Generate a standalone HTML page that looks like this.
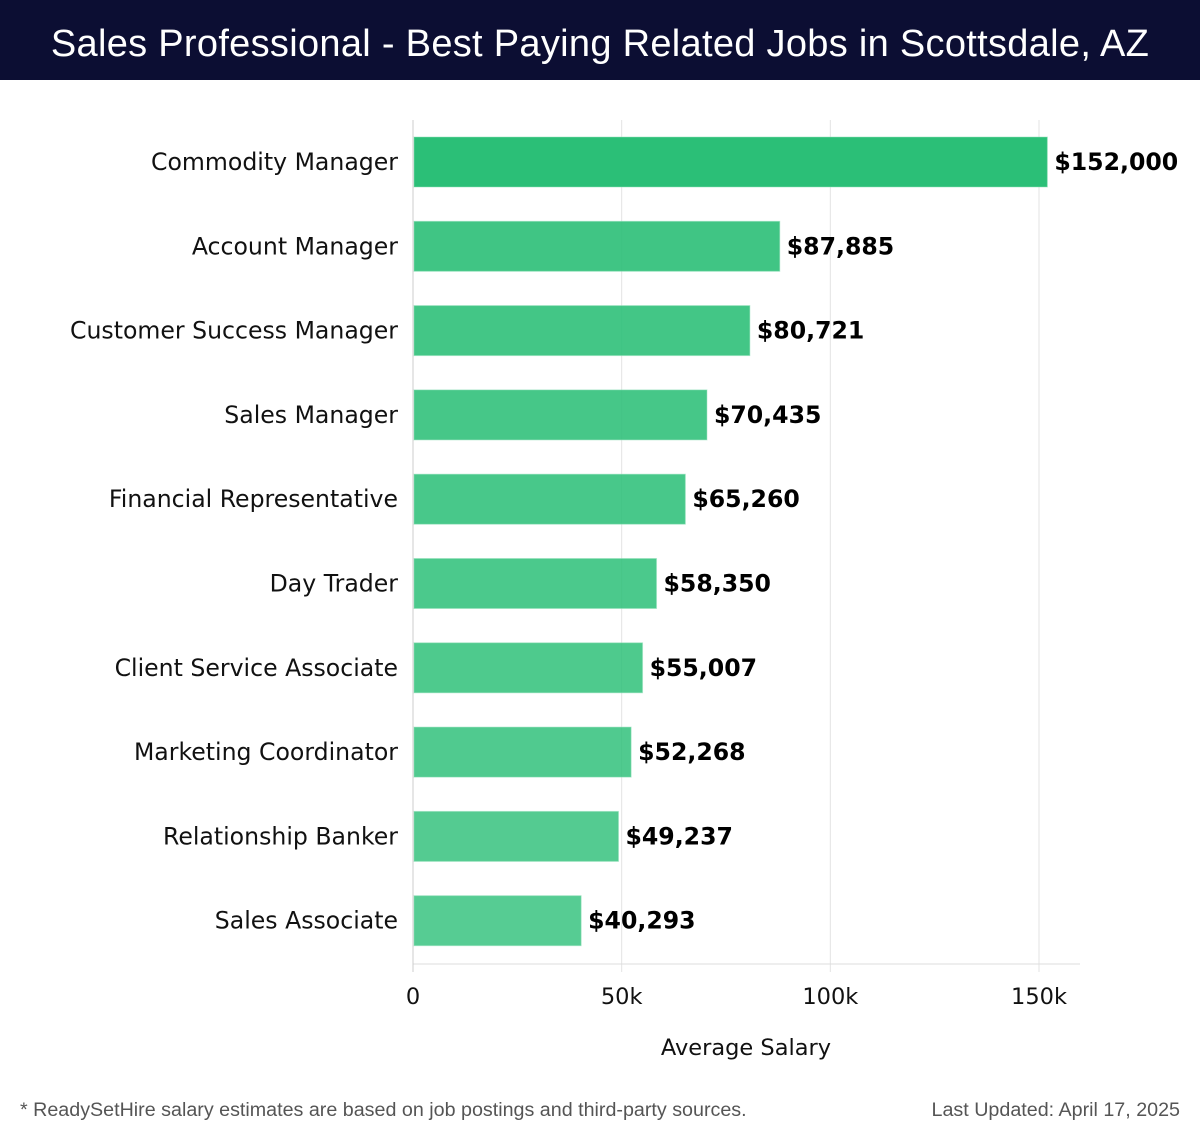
<!DOCTYPE html>
<html><head><meta charset="utf-8"><style>
body{margin:0;width:1200px;height:1140px;background:#fff;overflow:hidden;font-family:"DejaVu Sans","Liberation Sans",sans-serif}
#hdr{position:absolute;left:0;top:0;width:1200px;height:80px;background:#0c0e33;color:#fff;font-family:"Liberation Sans",sans-serif;font-size:38px;letter-spacing:0.3px;line-height:88px;text-align:center}
.foot{position:absolute;top:1099px;font-family:"Liberation Sans",sans-serif;font-size:19.7px;color:#555}
</style></head><body>
<div id="hdr">Sales Professional - Best Paying Related Jobs in Scottsdale, AZ</div>
<svg id="chart" width="1200" height="1140" style="position:absolute;left:0;top:0"></svg>
<div class="foot" style="left:20px">* ReadySetHire salary estimates are based on job postings and third-party sources.</div>
<div class="foot" style="right:20px">Last Updated: April 17, 2025</div>
<script>
const categories=["Commodity Manager","Account Manager","Customer Success Manager","Sales Manager","Financial Representative","Day Trader","Client Service Associate","Marketing Coordinator","Relationship Banker","Sales Associate"];
const values=[152000,87885,80721,70435,65260,58350,55007,52268,49237,40293];
const valueLabels=["$152,000","$87,885","$80,721","$70,435","$65,260","$58,350","$55,007","$52,268","$49,237","$40,293"];
const ticks=[0,50000,100000,150000];
const tickLabels=["0","50k","100k","150k"];
const NS="http://www.w3.org/2000/svg",svg=document.getElementById('chart');
const x0=413,xs=(1039-413)/150000,top0=120,bottom=964,step=84.3,c0=162,bh=50;
const X=v=>x0+v*xs, Y=i=>c0+i*step;
function mk(t,a,txt){const e=document.createElementNS(NS,t);for(const k in a)e.setAttribute(k,a[k]);if(txt!=null)e.textContent=txt;svg.appendChild(e);return e;}
ticks.forEach((t,i)=>{
 const g=mk('line',{x1:X(t),x2:X(t),y1:top0,y2:bottom+8,stroke:'#e3e3e3','stroke-width':1});
 
 
 const l=mk('text',{x:X(t),y:1004,'text-anchor':'middle','font-size':22.5,fill:'#111'},tickLabels[i]);
 
 
});
const ax=mk('line',{x1:x0,x2:1080,y1:bottom,y2:bottom,stroke:'#ddd','stroke-width':1});


const ay=mk('line',{x1:x0,x2:x0,y1:top0,y2:bottom+8,stroke:'#ccc','stroke-width':1});


categories.forEach((c,i)=>{
 const op=i===0?1:0.9-(i-1)*0.013;
 const r=mk('rect',{x:x0+1,y:Y(i)-bh/2,width:X(values[i])-x0-1,height:bh,fill:'#2bbf77','fill-opacity':op,stroke:'#8fe0b8','stroke-opacity':0.5,'stroke-width':1});
 
 
 const t=mk('text',{x:398,y:Y(i)+8,'text-anchor':'end','font-size':23.6,fill:'#111'},c);
 
 
 const v=mk('text',{x:X(values[i])+7,y:Y(i)+8,'font-size':23.6,'font-weight':'bold',fill:'#000'},valueLabels[i]);
 
 
});
const at=mk('text',{x:746,y:1055,'text-anchor':'middle','font-size':22.5,fill:'#111'},'Average Salary');


</script>
</body></html>
